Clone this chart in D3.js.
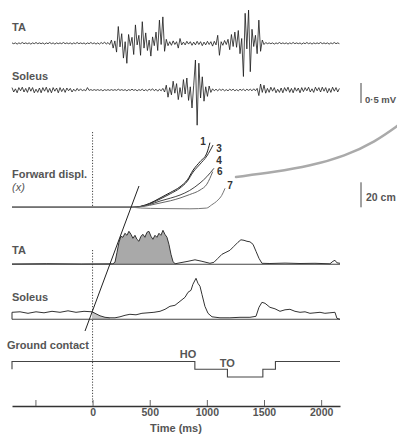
<!DOCTYPE html>
<html>
<head>
<meta charset="utf-8">
<script src="https://cdn.jsdelivr.net/npm/d3@7"></script>
<style>
  body { margin: 0; background: #fff; }
  svg text { font-family: "Liberation Sans", Arial, sans-serif; }
</style>
</head>
<body>
<script>
// ---- data ----
// raw EMG, hundredths of mV, one sample every 15 ms from -705 ms
const rawT0 = -705;
const rawStep = 15;
const taRaw = [
  1,-1,1,-2,1,-1,2,-1,1,-1,
  1,-2,1,-1,2,-1,1,-1,1,-2,
  1,-1,2,-1,1,-2,1,-1,1,-1,
  2,-1,1,-1,1,-2,1,-1,2,-1,
  1,-1,1,-2,1,-1,2,-1,1,-2,
  1,-2,2,-1,3,-2,2,-3,8,-12,
  6,-22,42,-9,24,-37,4,-50,22,-6,
  15,-28,46,-4,20,-30,54,-12,26,-18,
  8,-32,16,-6,28,-18,58,-3,66,-20,
  10,-6,4,-5,6,-3,4,-12,12,-4,
  3,-4,5,-2,4,-5,3,-4,5,-3,
  4,-6,3,-4,5,-3,4,-7,5,-4,
  20,-30,4,-5,7,-3,10,-16,22,-8,
  28,-10,32,-26,12,-83,75,-14,83,-71,
  35,-8,20,-26,58,-20,8,-3,2,-1,
  1,-1,1,-2,1,-1,2,-1,1,-1,
  1,-2,1,-1,2,-1,1,-1,1,-2,
  1,-1,2,-1,1,-2,1,-1,1,-1,
  2,-1,1,-1,1,-2,1,-1,2,-1,
  1,-1
];
const solRaw = [
  6,-5,3,-7,6,-2,7,-5,4,-6,
  7,-3,6,-7,2,-6,5,-7,6,-3,
  7,-6,4,-7,6,-3,5,-7,6,-4,
  4,-6,5,-2,4,-5,2,-3,4,-2,
  3,-2,1,-2,6,-1,1,-1,1,-1,
  1,-1,1,-2,1,-1,1,-1,1,-1,
  1,-1,2,-1,1,-1,1,-2,1,-1,
  2,-1,1,-2,1,-1,2,-2,1,-2,
  2,-1,3,-2,2,-3,2,-2,4,-5,
  12,-18,6,-12,22,-8,16,-24,6,-18,
  26,-10,30,-26,8,-45,12,75,-88,67,
  -20,33,-28,8,-16,10,-6,3,-2,2,
  -2,2,-1,2,-2,1,-2,2,-1,2,
  -2,1,-2,2,-1,2,-2,2,-1,2,
  -2,3,-2,4,-14,15,-6,12,-8,4,
  -6,7,-3,6,-7,2,-6,5,-7,6,
  -3,7,-6,4,-7,6,-3,5,-7,6,
  -4,6,-2,7,-5,3,-6,7,-2,6,
  -5,7,-3,6,-7,4,-6,7,-3,6,
  -5,4
];

// forward displacement (cm) of trials 1,3,4,6,7: [time ms, cm]
const trialNames = ['1', '3', '4', '6', '7'];
const trial1 = [[-705,0],[345,0],[420,0.8],[500,3.2],[590,7.4],[680,11.8],[765,16.4],[830,22],[880,29.8],[940,36.5],[1000,43.4],[1027,51.7]];
const trial3 = [[-705,0],[345,0],[420,0.6],[500,2.8],[590,6.6],[680,10.8],[765,15.4],[830,21],[880,28.2],[940,34.5],[1000,41],[1054,49.8]];
const trial4 = [[-705,0],[345,0],[420,0.6],[500,2.2],[590,5],[680,7.3],[765,9.8],[850,13.5],[940,19.4],[1000,24.5],[1062,31.2]];
const trial6 = [[-705,0],[345,0],[420,0.4],[500,1.6],[590,3.4],[680,5.2],[765,7.4],[850,10.2],[940,13.8],[1000,18.5],[1051,28.5]];
const trial7 = [[-705,0],[345,0],[420,-0.6],[590,-1],[852,-1.2],[998,-0.6],[1040,1.8],[1097,5.8],[1130,9.5],[1159,15.2]];
const trials = [trial1, trial3, trial4, trial6, trial7];

// rectified / averaged EMG, arbitrary units: [time ms, value]
const taEnv = [
  [-705,0.3],[-400,0.6],[-100,0.3],[178,0.5],[196,2],[214,12],[231,22],[248,28],[266,27],[283,31],
  [301,29],[318,33],[336,30],[353,26],[371,29],[388,25],[406,23],[423,28],[441,30],[458,27],
  [476,32],[493,33],[511,28],[528,25],[546,29],[563,27],[581,31],[598,29],[616,34],[633,30],
  [651,27],[668,20],[686,10],[703,3],[721,0.5],[765,1.5],[835,3],[896,4.5],[957,3],[1027,1],
  [1062,2],[1097,6],[1132,10],[1167,12],[1202,14],[1237,18],[1272,22],[1298,24.5],[1325,24],[1351,23],
  [1377,22.5],[1404,20],[1430,13],[1456,6],[1482,1],[1552,0.8],[1684,1.2],[1815,0.8],[1946,1],[2077,0.5],
  [2103,3],[2121,4],[2138,1.5],[2165,1]
];
const solEnv = [
  [-705,0],[-705,7],[-635,7.5],[-565,6],[-495,7.5],[-425,6.5],[-355,8],[-285,7],[-215,8.5],[-145,7],
  [-75,8],[-5,7.5],[30,5.5],[65,3.5],[109,2],[152,1.5],[196,1.5],[240,2.5],[284,4],[327,5],
  [380,4.5],[432,6],[485,6.5],[537,7],[590,8],[634,10],[677,13],[721,14],[765,18],[809,22],
  [835,27],[861,29],[878,35],[905,41],[922,36],[940,33],[957,25],[983,13],[1010,6],[1045,2.5],
  [1115,1.5],[1202,1.5],[1290,2],[1377,2],[1430,3],[1456,12],[1482,17],[1509,16],[1552,12],[1596,10.5],
  [1640,8],[1684,9.5],[1727,10],[1771,8],[1815,7],[1859,7.5],[1902,6],[1946,6.5],[1990,7],[2033,6],
  [2077,6.5],[2121,7],[2138,1],[2165,0]
];

// ground contact: 2 = whole foot, 1 = partial, 0 = toe off
const contactT = [-705, -705, 895, 1180, 1490, 1600, 2165];
const contactLevel = [1, 2, 1, 0, 1, 2, 2];
const contactEvents = [{ name: 'HO', t: 835 }, { name: 'TO', t: 1178 }];

const timeTicks = [-500, 0, 500, 1000, 1500, 2000];

// ---- layout ----
const W = 397, H = 434;
const labelColor = '#555';

const svg = d3.select('body').append('svg')
  .attr('width', W)
  .attr('height', H);

const x = d3.scaleLinear().domain([-705, 2165]).range([12, 340]);

const taRawY = d3.scaleLinear().domain([-100, 100]).range([83.3, 3.3]);
const solRawY = d3.scaleLinear().domain([-100, 100]).range([130, 50]);
const fwdY = d3.scaleLinear().domain([0, 20]).range([207.3, 182.3]);
const taEnvY = d3.scaleLinear().domain([0, 40]).range([264.3, 224.3]);
const solEnvY = d3.scaleLinear().domain([0, 40]).range([319.3, 279.3]);
const contactY = d3.scaleLinear().domain([0, 2]).range([377, 361.5]);
const axisY = 406;

const lineOf = (yScale) => d3.line().x(d => x(d[0])).y(d => yScale(d[1]));

const addLabel = (txt, lx, ly, opts = {}) => {
  return svg.append('text')
    .attr('x', lx)
    .attr('y', ly)
    .attr('dominant-baseline', 'central')
    .attr('text-anchor', opts.anchor || 'start')
    .style('font-size', (opts.size || 11) + 'px')
    .style('font-weight', opts.weight || 'bold')
    .style('font-style', opts.style || 'normal')
    .attr('fill', opts.fill || labelColor)
    .text(txt);
};

// stray grey pen stroke in the original figure
const penStroke = [[236, 177], [275, 172], [310, 166], [345, 156], [375, 142], [400, 124]];
svg.append('path')
  .attr('d', d3.line().curve(d3.curveBasis)(penStroke))
  .attr('fill', 'none')
  .attr('stroke', '#aaa')
  .attr('stroke-width', 2.5)
  .attr('stroke-linecap', 'round');

// ---- raw EMG ----
const rawPoints = (vals) => vals.map((v, i) => [rawT0 + i * rawStep, v]);

svg.append('path')
  .attr('d', lineOf(taRawY)(rawPoints(taRaw)))
  .attr('fill', 'none')
  .attr('stroke', '#1a1a1a')
  .attr('stroke-width', 0.8);

svg.append('path')
  .attr('d', lineOf(solRawY)(rawPoints(solRaw)))
  .attr('fill', 'none')
  .attr('stroke', '#1a1a1a')
  .attr('stroke-width', 0.8);

addLabel('TA', 12, 27);
addLabel('Soleus', 12, 76);

// 0.5 mV bar
svg.append('line')
  .attr('x1', 361).attr('x2', 361)
  .attr('y1', solRawY(-32.5)).attr('y2', solRawY(17.5))
  .attr('stroke', '#444').attr('stroke-width', 1);
addLabel('0·5 mV', 365, 99, { size: 9.5 });

// ---- time zero marker ----
const dotted = [[132, 207], [250, 403]];
dotted.forEach(seg => {
  svg.append('line')
    .attr('x1', x(0)).attr('x2', x(0))
    .attr('y1', seg[0]).attr('y2', seg[1])
    .attr('stroke', '#444')
    .attr('stroke-width', 1)
    .attr('stroke-dasharray', '1.2,1.6');
});

// ---- forward displacement ----
const trialColors = ['#1a1a1a', '#333', '#444', '#666', '#777'];
const trialLabelOffset = [[-7, -1], [6, 3], [5, -8], [7, 0], [5, -3]];

trials.forEach((tr, i) => {
  svg.append('path')
    .attr('d', lineOf(fwdY).curve(d3.curveMonotoneX)(tr))
    .attr('fill', 'none')
    .attr('stroke', trialColors[i])
    .attr('stroke-width', 1);
  const end = tr[tr.length - 1];
  addLabel(trialNames[i], x(end[0]) + trialLabelOffset[i][0], fwdY(end[1]) + trialLabelOffset[i][1],
    { size: 10, anchor: 'middle', fill: '#333' });
});

addLabel('Forward displ.', 12, 174);
addLabel('(x)', 12, 187, { style: 'italic', weight: 'normal' });

svg.append('line')
  .attr('x1', 361).attr('x2', 361)
  .attr('y1', fwdY(0)).attr('y2', fwdY(20))
  .attr('stroke', '#444').attr('stroke-width', 1);
addLabel('20 cm', 366, 197, { size: 10.5 });

// ---- averaged EMG ----
// TA
svg.append('path')
  .attr('d', d3.area()
    .x(d => x(d[0]))
    .y0(taEnvY(0))
    .y1(d => taEnvY(d[1]))(taEnv.filter(d => d[0] >= 178 && d[0] <= 721)))
  .attr('fill', '#a9a9a9');

svg.append('line')
  .attr('x1', x(-705)).attr('x2', x(2165))
  .attr('y1', taEnvY(0)).attr('y2', taEnvY(0))
  .attr('stroke', '#444').attr('stroke-width', 1.1);

svg.append('path')
  .attr('d', lineOf(taEnvY)(taEnv))
  .attr('fill', 'none')
  .attr('stroke', '#333')
  .attr('stroke-width', 1);

addLabel('TA', 12, 250);

// Soleus
svg.append('path')
  .attr('d', d3.area()
    .x(d => x(d[0]))
    .y0(solEnvY(0))
    .y1(d => solEnvY(d[1]))(solEnv.filter(d => d[0] >= -5 && d[0] <= 152)))
  .attr('fill', '#c4c4c4');

svg.append('line')
  .attr('x1', x(-705)).attr('x2', x(2165))
  .attr('y1', solEnvY(0)).attr('y2', solEnvY(0))
  .attr('stroke', '#444').attr('stroke-width', 1.1);

svg.append('path')
  .attr('d', lineOf(solEnvY)(solEnv))
  .attr('fill', 'none')
  .attr('stroke', '#333')
  .attr('stroke-width', 1);

addLabel('Soleus', 12, 297);

// onset line drawn across the panels
const onsetLine = [[-66, 331], [406, 186]];
svg.append('line')
  .attr('x1', x(onsetLine[0][0])).attr('y1', onsetLine[0][1])
  .attr('x2', x(onsetLine[1][0])).attr('y2', onsetLine[1][1])
  .attr('stroke', '#222')
  .attr('stroke-width', 1);

// ---- ground contact ----
addLabel('Ground contact', 7, 345);

const contact = contactT.map((t, i) => [t, contactLevel[i]]);
svg.append('path')
  .attr('d', lineOf(contactY).curve(d3.curveStepAfter)(contact))
  .attr('fill', 'none')
  .attr('stroke', '#444')
  .attr('stroke-width', 1.1);

contactEvents.forEach(ev => {
  addLabel(ev.name, x(ev.t), ev.name === 'HO' ? 354 : 363, { anchor: 'middle' });
});

// ---- time axis ----
const axis = svg.append('g')
  .attr('transform', `translate(0, ${axisY})`)
  .call(d3.axisBottom(x)
    .tickValues(timeTicks)
    .tickSizeInner(-6)
    .tickSizeOuter(0)
    .tickPadding(3)
    .tickFormat(d => d < 0 ? '' : d));

axis.select('.domain').attr('stroke', '#333').attr('stroke-width', 1.3);
axis.selectAll('.tick line').attr('stroke', '#666');
axis.selectAll('.tick text')
  .style('font-family', '"Liberation Sans", Arial, sans-serif')
  .style('font-size', '10.5px')
  .style('font-weight', 'bold')
  .attr('fill', labelColor);

addLabel('Time (ms)', (x.range()[0] + x.range()[1]) / 2, 428, { anchor: 'middle' });
</script>
</body>
</html>
